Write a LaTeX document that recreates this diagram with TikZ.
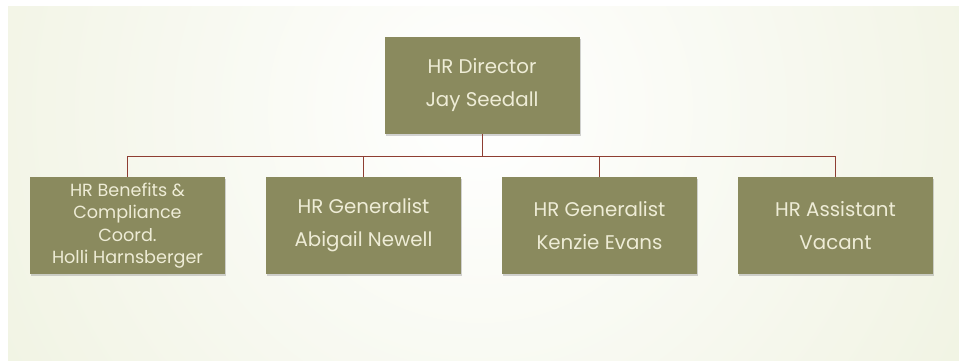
\documentclass[tikz,border=0pt]{standalone}
\usepackage{fontspec}
\setmainfont{Poppins}
\usetikzlibrary{shadows}
\definecolor{boxfill}{HTML}{8A8A5E}
\definecolor{boxtext}{HTML}{EEECD6}
\definecolor{linkred}{HTML}{8E3E32}
\definecolor{bgouter}{HTML}{E9EDD4}
\tikzset{
  orgbox/.style={draw=none, fill=boxfill, text=boxtext, minimum width=195pt,
    align=center, font=\fontsize{19.8}{33}\selectfont,
    drop shadow={opacity=0.35, shadow xshift=1pt, shadow yshift=-2pt}},
  link/.style={draw=linkred, line width=1pt}
}
\begin{document}
\begin{tikzpicture}[x=1pt,y=-1pt]
\useasboundingbox (0,0) rectangle (959,360);
\fill[white] (0,0) rectangle (959,360);
\begin{scope}
\clip (8,6) rectangle (959,360);
\fill[bgouter] (8,6) rectangle (959,360);
\shade[inner color=white, outer color=bgouter] (480,110) circle[radius=850];
\end{scope}
\node[orgbox, minimum height=97pt] (top) at (482,85.5) {HR Director\\Jay Seedall};
\node[orgbox, minimum height=97pt, font=\fontsize{17.6}{22.5}\selectfont] (b1) at (127.5,225.5) {HR Benefits \&\\Compliance\\Coord.\\Holli Harnsberger};
\node[orgbox, minimum height=97pt] (b2) at (363.5,225.5) {HR Generalist\\Abigail Newell};
\node[orgbox, minimum height=97pt] (b3) at (599.5,225.5) {HR Generalist\\Kenzie Evans};
\node[orgbox, minimum height=97pt] (b4) at (835.5,225.5) {HR Assistant\\Vacant};
\coordinate (junc) at (482,156);
\draw[link] (top.south) -- (junc);
\foreach \b in {b1,b2,b3,b4}{
  \draw[link] (junc) -| (\b.north);
}
\end{tikzpicture}
\end{document}
